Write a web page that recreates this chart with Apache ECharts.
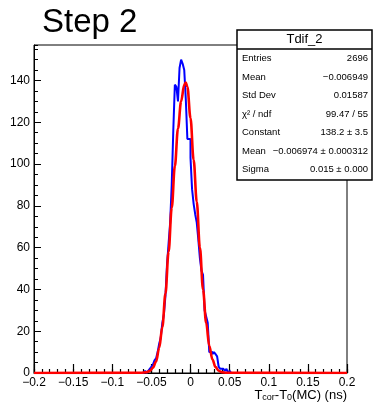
<!DOCTYPE html>
<html>
<head>
<meta charset="utf-8">
<script src="https://cdn.jsdelivr.net/npm/echarts@6/dist/echarts.min.js"></script>
<style>
html,body{margin:0;padding:0;background:#fff;}
#c{width:374px;height:406px;}
</style>
</head>
<body>
<div id="c"></div>
<script>
// ---- data ----
const binWidth = 0.002;
const firstBinLow = -0.060;
const counts = [0,1,0,1,2,3,4,6,7,10,14,17,24,28,37,52,62,72,90,116,138,137,130,146,150,148,145,131,112,112,103,88,81,76,72,64,55,49,47,30,27,24,10,10,9,10,9,8,3,2,2,2,1,2,0,1,0];
const fitX = [-0.200,-0.064,-0.056,-0.052,-0.048,-0.044,-0.040,-0.036,-0.032,-0.028,-0.024,-0.020,-0.016,-0.012,-0.008,-0.006,-0.004,0.000,0.004,0.008,0.012,0.016,0.020,0.024,0.028,0.032,0.036,0.040,0.046,0.200];
const fitY = [0,0.1,0.4,1.0,2.5,5.5,12,22,38,58,79,99,117,130,138,139,137,122,102,82,60,40,24,13,6.5,2.8,1.1,0.4,0.1,0];
const xTicks = [-0.2,-0.15,-0.1,-0.05,0,0.05,0.1,0.15,0.2];
const yTicks = [0,20,40,60,80,100,120,140];
const statsTitle = 'Tdif_2';
const statsLabels = ['Entries','Mean','Std Dev','\u03c7\u00b2 / ndf','Constant','Mean','Sigma'];
const statsValues = ['2696','\u22120.006949','0.01587','99.47 / 55','138.2 \u00b1 3.5','\u22120.006974 \u00b1 0.000312','0.015 \u00b1 0.000'];
const chartTitle = 'Step 2';

// ---- build series data ----
const xMin = xTicks[0], xMax = xTicks[xTicks.length-1];
const histPts = [[xMin,0]];
counts.forEach((c,i)=>{
  const lo = +(firstBinLow + i*binWidth).toFixed(4);
  const hi = +(lo + binWidth).toFixed(4);
  if(i===0) histPts.push([lo,0]);
  histPts.push([lo,c]); histPts.push([hi,c]);
  if(i===counts.length-1) histPts.push([hi,0]);
});
histPts.push([xMax,0]);
const fitPts = fitX.map((x,i)=>[x,fitY[i]]);

const FONT = 'Liberation Sans, Arial, sans-serif';
const gridBox = {left:34, right:27, top:45, bottom:33};
const plotH = 406 - gridBox.top - gridBox.bottom;
const yMax = 157;
const majorLen = 9, minorLen = 4;

const chart = echarts.init(document.getElementById('c'));

const graphics = [
  {type:'text', z:10, style:{x:42, y:23, text:chartTitle, font:'33px '+FONT, fill:'#000', verticalAlign:'middle'}},
  {type:'rect', z:10, shape:{x:237, y:30, width:135, height:150}, style:{fill:'#fff', stroke:'#000', lineWidth:1.5}},
  {type:'line', z:11, shape:{x1:237, y1:49, x2:372, y2:49}, style:{stroke:'#000', lineWidth:1.5}},
  {type:'text', z:11, style:{x:304.5, y:39.5, text:statsTitle, font:'13px '+FONT, fill:'#000', align:'center', verticalAlign:'middle'}},
  {type:'text', z:10, style:{x:347, y:395, text:'{a|T}{s|cor}{a|-T}{s|0}{a|(MC) (ns)}', align:'right', verticalAlign:'middle',
    rich:{a:{font:'13px '+FONT, fill:'#000'}, s:{font:'9px '+FONT, fill:'#000', padding:[6,0,0,0]}}}}
];
const rowY = [58,77,95.5,114,132.5,151,169.5];
statsLabels.forEach((l,i)=>{
  graphics.push({type:'text', z:11, style:{x:242, y:rowY[i], text:l, font:'9.5px '+FONT, fill:'#000', verticalAlign:'middle'}});
  graphics.push({type:'text', z:11, style:{x:368, y:rowY[i], text:statsValues[i], font:'9.5px '+FONT, fill:'#000', align:'right', verticalAlign:'middle'}});
});

const fmtX = v => {
  const r = Math.round(v*100)/100;
  if (Math.abs(r) < 1e-9) return '0';
  return String(r).replace('-', '\u2212');
};

chart.setOption({
  animation:false,
  grid:[
    Object.assign({show:true, borderColor:'#000', borderWidth:1}, gridBox),
    Object.assign({show:false}, gridBox)
  ],
  graphic: graphics,
  xAxis:[{
    gridIndex:0, type:'value', min:xMin, max:xMax, interval:0.05, position:'bottom',
    axisLine:{show:true, onZero:false, lineStyle:{color:'#000', width:1}},
    axisTick:{show:false},
    splitLine:{show:false},
    axisLabel:{show:true, margin:4, fontFamily:FONT, fontSize:12, color:'#000', formatter:fmtX, showMinLabel:true, showMaxLabel:true, hideOverlap:false}
  },{
    // major ticks: top axis moved down inside the frame, ticks pointing down to the frame's bottom edge
    gridIndex:1, type:'value', min:xMin, max:xMax, interval:0.05, position:'top', offset:-(plotH - majorLen),
    axisLine:{show:false, onZero:false},
    axisTick:{show:true, inside:true, length:majorLen, lineStyle:{color:'#000', width:1.2}},
    splitLine:{show:false},
    axisLabel:{show:false}
  },{
    gridIndex:1, type:'value', min:xMin, max:xMax, interval:0.01, position:'top', offset:-(plotH - minorLen),
    axisLine:{show:false, onZero:false},
    axisTick:{show:true, inside:true, length:minorLen, lineStyle:{color:'#000', width:1.2}},
    splitLine:{show:false},
    axisLabel:{show:false}
  }],
  yAxis:[{
    gridIndex:0, type:'value', min:0, max:yMax, interval:20, position:'left',
    axisLine:{show:true, onZero:false, lineStyle:{color:'#000', width:1}},
    axisTick:{show:true, inside:true, length:7, lineStyle:{color:'#000', width:1}},
    splitLine:{show:false},
    axisLabel:{show:true, margin:4, fontFamily:FONT, fontSize:12, color:'#000', showMaxLabel:false,
      formatter: v => (yTicks.indexOf(Math.round(v))>=0 && Math.abs(v-Math.round(v))<1e-6) ? String(Math.round(v)) : ''}
  },{
    gridIndex:0, type:'value', min:0, max:yMax, interval:5, position:'left',
    axisLine:{show:false, onZero:false},
    axisTick:{show:true, inside:true, length:4, lineStyle:{color:'#000', width:1}},
    splitLine:{show:false},
    axisLabel:{show:false}
  },{
    gridIndex:1, type:'value', min:0, max:yMax, show:false
  }],
  series:[
    {type:'line', name:'hist', data:histPts, xAxisIndex:0, yAxisIndex:0, showSymbol:false, symbol:'none', clip:true,
     lineStyle:{color:'#0000ff', width:2}, z:2},
    {type:'line', name:'fit', data:fitPts, xAxisIndex:0, yAxisIndex:0, showSymbol:false, symbol:'none', smooth:0.35, smoothMonotone:'x', clip:true,
     lineStyle:{color:'#ff0000', width:2.6}, z:3}
  ]
});
</script>
</body>
</html>
